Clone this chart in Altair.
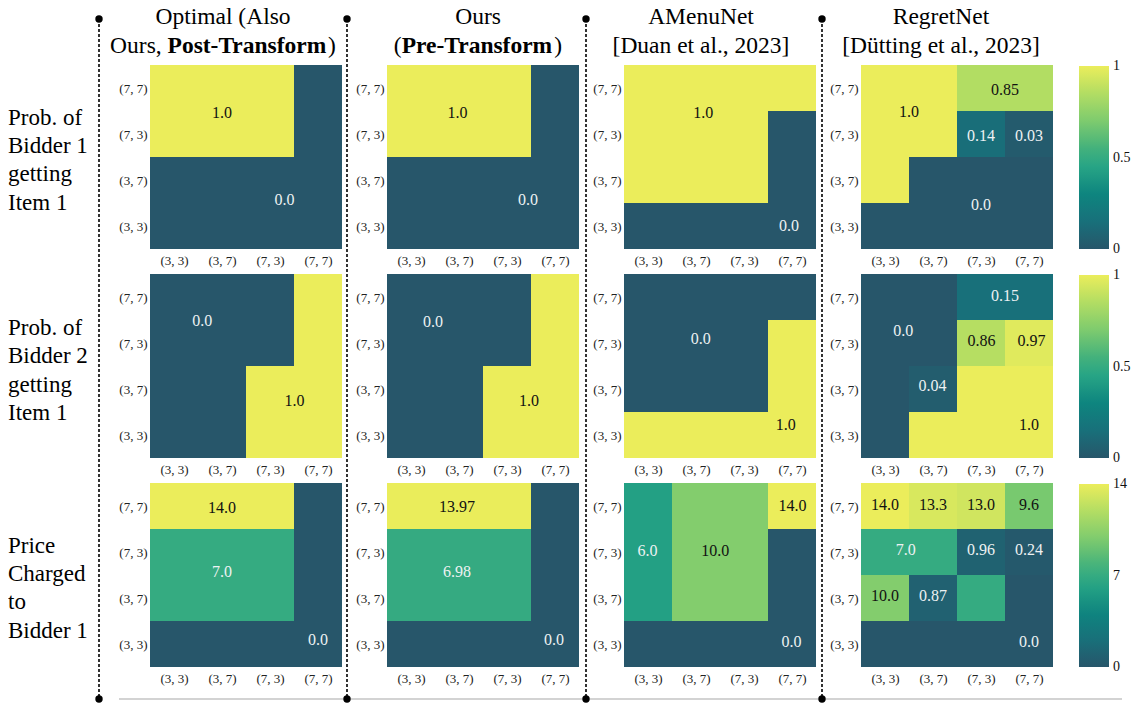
import json
import altair as alt
import pandas as pd

FONT = "Liberation Serif"

# ---------------- data ----------------
x_ticks = ["(3, 3)", "(3, 7)", "(7, 3)", "(7, 7)"]
y_ticks = ["(7, 7)", "(7, 3)", "(3, 7)", "(3, 3)"]  # top -> bottom

row_titles = [
    ["Prob. of", "Bidder 1", "getting", "Item 1"],
    ["Prob. of", "Bidder 2", "getting", "Item 1"],
    ["Price", "Charged", "to", "Bidder 1"],
]

# grids: rows top->bottom, columns left->right
alloc1_optimal = [[1, 1, 1, 0], [1, 1, 1, 0], [0, 0, 0, 0], [0, 0, 0, 0]]
alloc1_ours = [[1, 1, 1, 0], [1, 1, 1, 0], [0, 0, 0, 0], [0, 0, 0, 0]]
alloc1_amenu = [[1, 1, 1, 1], [1, 1, 1, 0], [1, 1, 1, 0], [0, 0, 0, 0]]
alloc1_regret = [[1, 1, 0.85, 0.85], [1, 1, 0.14, 0.03], [1, 0, 0, 0], [0, 0, 0, 0]]

alloc2_optimal = [[0, 0, 0, 1], [0, 0, 0, 1], [0, 0, 1, 1], [0, 0, 1, 1]]
alloc2_ours = [[0, 0, 0, 1], [0, 0, 0, 1], [0, 0, 1, 1], [0, 0, 1, 1]]
alloc2_amenu = [[0, 0, 0, 0], [0, 0, 0, 1], [0, 0, 0, 1], [1, 1, 1, 1]]
alloc2_regret = [[0, 0, 0.15, 0.15], [0, 0, 0.86, 0.97], [0, 0.04, 1, 1], [0, 1, 1, 1]]

price_optimal = [[14, 14, 14, 0], [7, 7, 7, 0], [7, 7, 7, 0], [0, 0, 0, 0]]
price_ours = [[13.97, 13.97, 13.97, 0], [6.98, 6.98, 6.98, 0], [6.98, 6.98, 6.98, 0], [0, 0, 0, 0]]
price_amenu = [[6, 10, 10, 14], [6, 10, 10, 0], [6, 10, 10, 0], [0, 0, 0, 0]]
price_regret = [[14.0, 13.3, 13.0, 9.6], [7.0, 7.0, 0.96, 0.24], [10.0, 0.87, 7.0, 0.0], [0, 0, 0, 0]]

# annotation labels: (text, column position, row position from top)
lab1_optimal = [("1.0", 1.5, 1.05), ("0.0", 2.8, 2.94)]
lab1_ours = [("1.0", 1.47, 1.05), ("0.0", 2.94, 2.94)]
lab1_amenu = [("1.0", 1.65, 1.04), ("0.0", 3.44, 3.5)]
lab1_regret = [("1.0", 1.0, 1.03), ("0.85", 3.0, 0.55), ("0.14", 2.5, 1.55),
               ("0.03", 3.5, 1.55), ("0.0", 2.5, 3.04)]

lab2_optimal = [("0.0", 1.09, 1.02), ("1.0", 3.01, 2.76)]
lab2_ours = [("0.0", 0.96, 1.05), ("1.0", 2.96, 2.76)]
lab2_amenu = [("0.0", 1.6, 1.42), ("1.0", 3.37, 3.29)]
lab2_regret = [("0.15", 3.0, 0.47), ("0.0", 0.88, 1.23), ("0.86", 2.51, 1.45),
               ("0.97", 3.55, 1.45), ("0.04", 1.49, 2.43), ("1.0", 3.5, 3.28)]

lab3_optimal = [("14.0", 1.5, 0.54), ("7.0", 1.5, 1.93), ("0.0", 3.5, 3.42)]
lab3_ours = [("13.97", 1.46, 0.52), ("6.98", 1.46, 1.93), ("0.0", 3.48, 3.42)]
lab3_amenu = [("6.0", 0.49, 1.48), ("10.0", 1.9, 1.48), ("14.0", 3.51, 0.51), ("0.0", 3.49, 3.46)]
lab3_regret = [("14.0", 0.5, 0.48), ("13.3", 1.5, 0.48), ("13.0", 2.5, 0.48), ("9.6", 3.5, 0.48),
               ("7.0", 0.93, 1.46), ("0.96", 2.5, 1.46), ("0.24", 3.5, 1.46),
               ("10.0", 0.5, 2.46), ("0.87", 1.5, 2.46), ("0.0", 3.5, 3.46)]

# colour-bar tick labels per row
cbar_ticks_prob = ["0", "0.5", "1"]
cbar_ticks_price = ["0", "7", "14"]

# ---------------- style ----------------
STOPS = [0, 0.15, 0.3, 0.45, 0.55, 0.7, 0.85, 1.0]
COLORS = ["#27566a", "#18707a", "#0e857f", "#27a485", "#43b17c", "#7ecb6e", "#b2dd63", "#ebed5b"]

W, H = 192, 184
TITLE_FS = 23.5
LEG_X, LEG_Y, LEG_LEN, LEG_THICK = 218, 1, 183, 30
# Times/Liberation Serif advance widths (em) for title pieces
EM = {"Ours, ": 2.444, "Post-Transform": 6.832, "(": 0.333, ")": 0.333, "Pre-Transform": 6.498}

one = pd.DataFrame({"k": [0]})


def text_piece(txt, x, y, bold=False, align="left"):
    return alt.Chart(one).mark_text(
        text=txt, x=x, y=y, align=align, baseline="alphabetic", font=FONT,
        fontSize=TITLE_FS, fontWeight="bold" if bold else "normal", color="#000000")


def title_layers(center, line1, line2_pieces):
    layers = [text_piece(line1, center, -41, align="center")]
    total = sum(EM[p] for p, _ in line2_pieces) * TITLE_FS
    x0 = center - total / 2
    for p, b in line2_pieces:
        layers.append(text_piece(p.strip(), x0, -12.5, bold=b))
        x0 += EM[p] * TITLE_FS
    return layers


def cbar_labels(ticks, vmax):
    return [alt.Chart(one).mark_text(
        text=t, x=LEG_X + LEG_THICK + 4, y=LEG_Y + LEG_LEN * (1 - float(t) / vmax),
        align="left", baseline="middle", font=FONT, fontSize=14, color="#111111")
        for t in ticks]


def panel(grid, labels, vmax, legend=None, extra_before=None, extra_after=None):
    cells = pd.DataFrame([{"x0": c, "x1": c + 1, "y0": r, "y1": r + 1, "v": grid[r][c]}
                          for r in range(4) for c in range(4)])
    lab = pd.DataFrame([{"t": t, "lx": x, "ly": y,
                         "tc": "#111111" if float(t) / vmax >= 0.6 else "#eef2f3"}
                        for t, x, y in labels])
    xs = alt.Scale(domain=[0, 4], nice=False, zero=False)
    ys = alt.Scale(domain=[0, 4], nice=False, zero=False, reverse=True)
    cs = alt.Scale(domain=[s * vmax for s in STOPS], range=COLORS, interpolate="rgb")
    xaxis = alt.Axis(values=[0.5, 1.5, 2.5, 3.5],
                     labelExpr=json.dumps(x_ticks) + "[floor(datum.value)]",
                     title=None, domain=False, ticks=False, grid=False, labelPadding=5,
                     labelAngle=0)
    yaxis = alt.Axis(values=[0.5, 1.5, 2.5, 3.5],
                     labelExpr=json.dumps(y_ticks) + "[floor(datum.value)]",
                     title=None, domain=False, ticks=False, grid=False, labelPadding=3)
    extra_after = list(extra_after or [])
    if legend:
        leg = alt.Legend(type="gradient", orient="none", legendX=LEG_X, legendY=LEG_Y,
                         direction="vertical", gradientLength=LEG_LEN,
                         gradientThickness=LEG_THICK, gradientStrokeWidth=0,
                         values=[0, vmax], labelExpr="''", labelOffset=0,
                         title=None, padding=0)
        fill = alt.Fill("v:Q", scale=cs, legend=leg)
        extra_after += cbar_labels(legend, vmax)
    else:
        fill = alt.Fill("v:Q", scale=cs, legend=None)
    rect = alt.Chart(cells).mark_rect().encode(
        x=alt.X("x0:Q", scale=xs, axis=xaxis),
        x2="x1:Q",
        y=alt.Y("y0:Q", scale=ys, axis=yaxis),
        y2="y1:Q",
        fill=fill,
    )
    txt = alt.Chart(lab).mark_text(font=FONT, fontSize=16, baseline="middle").encode(
        x=alt.X("lx:Q", scale=xs),
        y=alt.Y("ly:Q", scale=ys),
        text="t:N",
        color=alt.Color("tc:N", scale=None),
    )
    layers = (extra_before or []) + [rect, txt] + extra_after
    return alt.layer(*layers).properties(width=W, height=H)


def dashed(xpos):
    rule = alt.Chart(one).mark_rule(color="#000000", strokeWidth=1.6, strokeDash=[3, 2]).encode(
        x=alt.value(xpos), y=alt.value(-46), y2=alt.value(634))
    dots = [alt.Chart(one).mark_point(filled=True, size=55, color="#000000", opacity=1).encode(
        x=alt.value(xpos), y=alt.value(yy)) for yy in (-46, 634)]
    return [rule] + dots


def row_title(lines, y):
    return alt.Chart(one).mark_text(
        text=lines, x=-142, y=y, align="left", baseline="alphabetic", font=FONT,
        fontSize=23, lineHeight=28.3, color="#000000")


gray = alt.Chart(one).mark_rule(color="#c4c4c4", strokeWidth=1.3).encode(
    x=alt.value(-31), x2=alt.value(972), y=alt.value(634))

# top row with column titles and separators
p11 = panel(alloc1_optimal, lab1_optimal, 1.0, extra_before=[gray],
            extra_after=[row_title(row_titles[0], 59.7)] +
            title_layers(73, "Optimal (Also", [("Ours, ", False), ("Post-Transform", True), (")", False)]) +
            dashed(-51))
p12 = panel(alloc1_ours, lab1_ours, 1.0,
            extra_after=title_layers(91, "Ours", [("(", False), ("Pre-Transform", True), (")", False)]) +
            dashed(-40))
p13 = panel(alloc1_amenu, lab1_amenu, 1.0,
            extra_after=[text_piece("AMenuNet", 77, -41, align="center"),
                         text_piece("[Duan et al., 2023]", 77, -12.5, align="center")] + dashed(-38))
p14 = panel(alloc1_regret, lab1_regret, 1.0, legend=cbar_ticks_prob,
            extra_after=[text_piece("RegretNet", 80, -41, align="center"),
                         text_piece("[Dütting et al., 2023]", 80, -12.5, align="center")] + dashed(-39))

p21 = panel(alloc2_optimal, lab2_optimal, 1.0, extra_after=[row_title(row_titles[1], 61)])
p22 = panel(alloc2_ours, lab2_ours, 1.0)
p23 = panel(alloc2_amenu, lab2_amenu, 1.0)
p24 = panel(alloc2_regret, lab2_regret, 1.0, legend=cbar_ticks_prob)

p31 = panel(price_optimal, lab3_optimal, 14.0, extra_after=[row_title(row_titles[2], 69.7)])
p32 = panel(price_ours, lab3_ours, 14.0)
p33 = panel(price_amenu, lab3_amenu, 14.0)
p34 = panel(price_regret, lab3_regret, 14.0, legend=cbar_ticks_price)

chart = alt.concat(
    p11, p12, p13, p14, p21, p22, p23, p24, p31, p32, p33, p34,
    columns=4, spacing={"row": 25, "column": 45}, bounds="flush",
).resolve_scale(fill="independent").resolve_legend(
    fill="independent"
).configure_view(stroke=None).configure_axis(
    labelFont=FONT, labelFontSize=13, labelColor="#222222"
).properties(padding={"left": 0, "top": -3, "right": 0, "bottom": 0}, background="#ffffff")

chart.save("out.html", embed_options={"renderer": "svg", "actions": False})
